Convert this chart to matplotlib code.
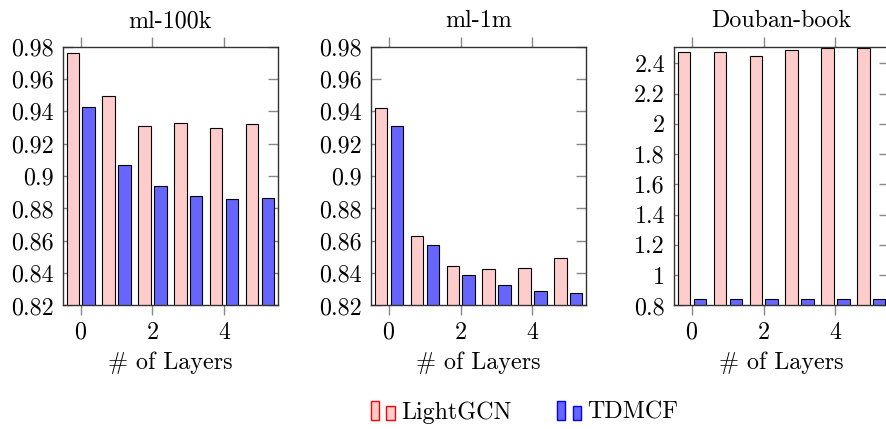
import matplotlib
matplotlib.use('Agg')
import matplotlib.pyplot as plt
import numpy as np
from matplotlib.patches import Rectangle
from matplotlib.legend_handler import HandlerBase
from matplotlib.ticker import FuncFormatter

plt.rcParams['font.family'] = ['cmr10', 'DejaVu Serif']
plt.rcParams['mathtext.fontset'] = 'cm'
plt.rcParams['axes.unicode_minus'] = False
plt.rcParams['axes.formatter.use_mathtext'] = True

# ---------------- data ----------------
layers = [0, 1, 2, 3, 4, 5]
titles = ['ml-100k', 'ml-1m', 'Douban-book']
series_names = ['LightGCN', 'TDMCF']

lightgcn_ml100k = [0.976, 0.9495, 0.931, 0.933, 0.930, 0.932]
tdmcf_ml100k = [0.9427, 0.907, 0.894, 0.8878, 0.8856, 0.8864]

lightgcn_ml1m = [0.9419, 0.8627, 0.8441, 0.8427, 0.8429, 0.8495]
tdmcf_ml1m = [0.9307, 0.8571, 0.8388, 0.8324, 0.8289, 0.828]

lightgcn_douban = [2.477, 2.477, 2.448, 2.486, 2.499, 2.499]
tdmcf_douban = [0.844, 0.844, 0.844, 0.844, 0.844, 0.844]

ylims = [(0.82, 0.98), (0.82, 0.98), (0.8, 2.51)]
yticks = [np.arange(0.82, 0.981, 0.02), np.arange(0.82, 0.981, 0.02), np.arange(0.8, 2.41, 0.2)]
xticks = [0, 2, 4]

# ---------------- style ----------------
pink_face = '#FFCCCC'
blue_face = '#6666FF'
spine_col = '#333333'
tick_col = '#888888'
FS = 17.3

fig = plt.figure(figsize=(8.86, 4.29), dpi=100)
bottom = 0.288
height = 0.891 - 0.288
lefts = [0.0708, 0.4187, 0.7607]
width = 0.243

data = [(lightgcn_ml100k, tdmcf_ml100k), (lightgcn_ml1m, tdmcf_ml1m), (lightgcn_douban, tdmcf_douban)]
x = np.array(layers, dtype=float)
bw = 0.345
off = 0.222

for i, (lg, td) in enumerate(data):
    ax = fig.add_axes([lefts[i], bottom, width, height])
    ax.set_axisbelow(True)
    ax.bar(x - off, lg, bw, color=pink_face, edgecolor='black', linewidth=0.8, zorder=2)
    ax.bar(x + off, td, bw, color=blue_face, edgecolor='black', linewidth=0.8, zorder=2)
    ax.set_xlim(-0.5, 5.5)
    ax.set_ylim(*ylims[i])
    ax.set_xticks(xticks)
    ax.set_yticks(yticks[i])
    ax.yaxis.set_major_formatter(FuncFormatter(lambda v, p: ('%.2f' % v).rstrip('0').rstrip('.')))
    ax.tick_params(axis='x', direction='out', length=7.5, width=1.0, color=tick_col,
                   top=True, bottom=True, labelsize=FS, pad=4)
    ax.tick_params(axis='y', direction='in', length=7.5, width=1.0, color=tick_col,
                   left=True, right=True, labelsize=FS, pad=6.5)
    for s in ax.spines.values():
        s.set_color(spine_col)
        s.set_linewidth(1.0)
        s.set_zorder(3)
    ax.set_title(titles[i], fontsize=FS, pad=14)
    ax.set_xlabel('# of Layers', fontsize=FS, labelpad=6)


class TwoBarHandler(HandlerBase):
    def __init__(self, face, edge):
        super().__init__()
        self.face = face
        self.edge = edge

    def create_artists(self, legend, orig_handle, xdescent, ydescent, w, h, fontsize, trans):
        bwid = w * 0.34
        r1 = Rectangle((-xdescent, -ydescent), bwid, h, facecolor=self.face,
                       edgecolor=self.edge, linewidth=1.0, transform=trans)
        r2 = Rectangle((-xdescent + w - bwid, -ydescent), bwid, h * 0.75, facecolor=self.face,
                       edgecolor=self.edge, linewidth=1.0, transform=trans)
        return [r1, r2]


p1 = Rectangle((0, 0), 1, 1)
p2 = Rectangle((0, 0), 1, 1)
fig.legend([p1, p2], series_names, loc='center', bbox_to_anchor=(0.592, 0.039),
           ncol=2, frameon=False, fontsize=FS, handlelength=1.0, handleheight=0.85,
           handletextpad=0.28, columnspacing=1.87,
           handler_map={p1: TwoBarHandler(pink_face, 'red'), p2: TwoBarHandler(blue_face, 'blue')})

fig.savefig('out.png', dpi=100)
